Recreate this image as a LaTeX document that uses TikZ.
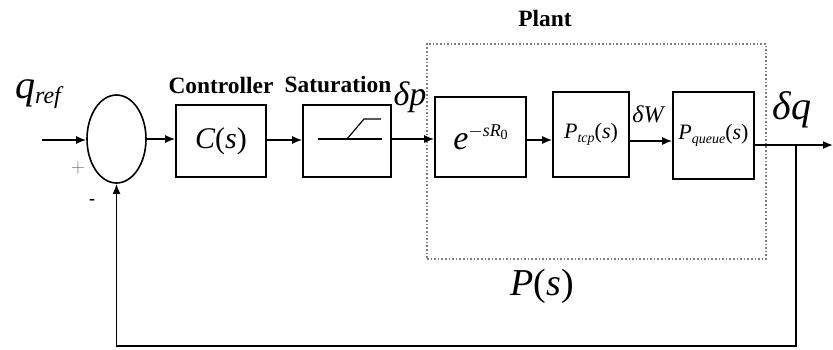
\documentclass[tikz,border=0pt]{standalone}
\usepackage{amsmath}
\usepackage{fontspec}
\setmainfont{Liberation Serif}
\usetikzlibrary{shapes.geometric, arrows.meta}

\newcommand{\fsz}[1]{\fontsize{#1}{#1}\selectfont}

\begin{document}
\begin{tikzpicture}[x=0.5pt, y=-0.5pt, >={Latex[length=5pt, width=4pt]},
  block/.style={draw, line width=0.8pt, inner sep=0pt},
  sig/.style={line width=0.8pt},
  lbl/.style={font=\fsz{11.7}\bfseries}]
  \useasboundingbox (0,0) rectangle (833,349);

  % Summierer und Eingang
  \node[ellipse, draw, line width=0.8pt, minimum width=29.5pt, minimum height=44pt, inner sep=0pt] (sum) at (116.5,139) {};
  \node (qref) at (38,94) {\fsz{20}\itshape q\fsz{12}\raisebox{-0.5ex}{ref}};
  \coordinate (qin) at (42,140);
  \node[gray, font=\small] (plus) at (78,168) {$+$};
  \node[font=\small\bfseries] (minus) at (92,202) {-};

  % Regler und Saettigung
  \node[block, minimum width=45pt, minimum height=36pt] (ctrl) at (221,141) {\fsz{15}\itshape C\upshape(\itshape s\upshape)};
  \node[lbl] (ctrllbl) at (221,85) {Controller};
  \node[block, minimum width=44pt, minimum height=36pt] (sat) at (347,141) {};
  \node[lbl] (satlbl) at (338,85) {Saturation};
  \draw[line width=0.6pt] (318,139) -- (382,139);
  \draw[line width=0.6pt] (347,139) -- (364,119) -- (381,119);

  % Strecke
  \node[draw=gray, densely dotted, line width=0.8pt, minimum width=169.5pt, minimum height=107.5pt] (plant) at (596.5,151.5) {};
  \node[lbl] (plantlbl) at (545,18) {Plant};
  \node (ps) at (542,286) {\fsz{19}\itshape P\upshape(\itshape s\upshape)};
  \node[block, minimum width=45.5pt, minimum height=40pt] (delay) at (480.5,137)
    {\fsz{17}\itshape e\fsz{9}\raisebox{1.6ex}{\upshape$-$\itshape sR\raisebox{-0.4ex}{\upshape\fsz{7}0}}};
  \node[block, minimum width=38pt, minimum height=42.5pt] (tcp) at (591,134.5)
    {\fsz{11}\itshape P\fsz{7}\raisebox{-0.6ex}{tcp}\fsz{11}\upshape(\itshape s\upshape)};
  \node[block, minimum width=40.5pt, minimum height=43.5pt] (queue) at (713.5,135.5)
    {\fsz{11}\itshape P\fsz{7}\raisebox{-0.6ex}{queue}\fsz{11}\upshape(\itshape s\upshape)};

  % Signale
  \node (dp) at (410,97) {\fsz{17}\itshape δp};
  \node (dw) at (648,114) {\fsz{12}\itshape δW};
  \node (dq) at (792,110) {\fsz{20}\itshape δq};
  \coordinate (branch) at (796,145);
  \coordinate (qout) at (833,145);
  \coordinate (fbr) at (796,346);
  \coordinate (fbl) at (116.5,346);

  \draw[sig, ->] (qin) -- (sum.west |- qin);
  \draw[sig, ->] (sum.east) -- (sum.east -| ctrl.west);
  \draw[sig, ->] (ctrl.east |- 0,140) -- (sat.west |- 0,140);
  \draw[sig, ->] (sat.east |- 0,139) -- (delay.west |- 0,139);
  \draw[sig, ->] (delay.east |- 0,140) -- (tcp.west |- 0,140);
  \draw[sig, ->] (tcp.east |- 0,141) -- (queue.west |- 0,141);
  \draw[sig, ->] (queue.east |- branch) -- (qout);

  % Rueckfuehrung
  \draw[sig, ->] (branch) -- (fbr) -- (fbl) -- (sum.south);
\end{tikzpicture}
\end{document}
